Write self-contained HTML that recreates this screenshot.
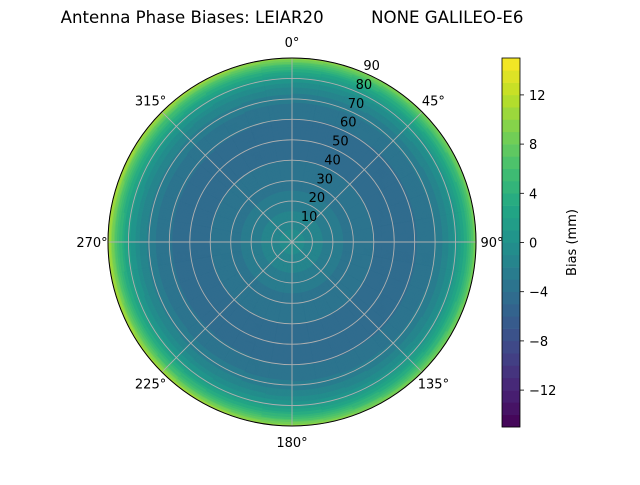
<!DOCTYPE html>
<html><head><meta charset="utf-8"><style>
body{margin:0;background:#fff;font-family:"Liberation Sans","DejaVu Sans",sans-serif}
svg text{font-family:"DejaVu Sans","Liberation Sans",sans-serif}
</style></head><body>
<svg id="chart" width="640" height="480" viewBox="0 0 640 480" xmlns="http://www.w3.org/2000/svg">
<text x="292" y="23" font-size="16.6" text-anchor="middle" xml:space="preserve">Antenna Phase Biases: LEIAR20         NONE GALILEO-E6</text>
<g id="plot"></g>
<g id="cbar"></g>
</svg>
<script>
const zenith=[0,5,10,15,20,25,30,35,40,45,50,55,60,65,70,75,80,83,86,88,90];
const bias=[-0.6,-0.9,-1.4,-2.0,-2.6,-3.0,-3.4,-3.7,-4.0,-4.2,-4.3,-4.2,-4.0,-3.5,-2.6,-1.2,1.0,3.0,5.5,7.8,10.5];
const azAsym=[0,0,0,0,0,0,0,0,0,0,0,0,0.1,0.2,0.3,0.4,0.6,0.8,1.0,1.2,1.5];
const cbTicks=[-12,-8,-4,0,4,8,12];
const rTicks=[10,20,30,40,50,60,70,80,90];
const aTicks=[0,45,90,135,180,225,270,315];
const vmin=-15,vmax=15,nLev=30;
const cx=292,cy=242,R=184;
const NS="http://www.w3.org/2000/svg";
const V=[[68,1,84],[72,36,117],[65,68,135],[53,95,141],[42,120,142],[33,145,140],[34,168,132],[68,191,112],[122,209,81],[189,223,38],[253,231,37]];
function vir(t){t=Math.max(0,Math.min(1,t));const f=t*(V.length-1),i=Math.min(V.length-2,Math.floor(f)),u=f-i;
return 'rgb('+V[i].map((c,k)=>Math.round(c+(V[i+1][k]-c)*u)).join(',')+')';}
function lvlColor(v){let k=Math.floor((v-vmin)/(vmax-vmin)*nLev);k=Math.max(0,Math.min(nLev-1,k));return vir((k+0.5)/nLev);}
function rScale(z){return z/90*R;}
function interp(arr,z){for(let i=0;i<zenith.length-1;i++){if(z<=zenith[i+1]){const u=(z-zenith[i])/(zenith[i+1]-zenith[i]);return arr[i]+(arr[i+1]-arr[i])*u;}}return arr[arr.length-1];}
function el(t,a,p){const e=document.createElementNS(NS,t);for(const k in a)e.setAttribute(k,a[k]);p.appendChild(e);return e;}
const plot=document.getElementById('plot');
const dz=0.5,da=10;
for(let z=90-dz;z>=0;z-=dz){
 for(let a=0;a<360;a+=da){
  const am=(a+da/2)*Math.PI/180;
  const v=interp(bias,z+dz/2)-interp(azAsym,z+dz/2)*Math.sin(am)*1.0;
  const r1=rScale(z+dz),a1=a*Math.PI/180,a2=(a+da)*Math.PI/180;
  const p=`M${cx} ${cy} L${cx+r1*Math.sin(a1)} ${cy-r1*Math.cos(a1)} A${r1} ${r1} 0 0 1 ${cx+r1*Math.sin(a2)} ${cy-r1*Math.cos(a2)} Z`;
  const w=el('path',{d:p,fill:lvlColor(v),stroke:lvlColor(v),'stroke-width':0.4},plot);
  
  
 }
}
rTicks.forEach(t=>{const c=el('circle',{cx:cx,cy:cy,r:rScale(t),fill:'none',stroke:'#b0b0b0','stroke-width':0.9},plot);
 });
aTicks.forEach(t=>{const a=t*Math.PI/180;const l=el('line',{x1:cx,y1:cy,x2:cx+R*Math.sin(a),y2:cy-R*Math.cos(a),stroke:'#b0b0b0','stroke-width':0.9},plot);
 
 const lr=R+16;const tx=el('text',{x:cx+lr*Math.sin(a),y:cy-lr*Math.cos(a)+5,'font-size':13,'text-anchor':'middle'},plot);tx.textContent=t+'°';
 });
const b=el('circle',{cx:cx,cy:cy,r:R,fill:'none',stroke:'#000','stroke-width':1},plot);

rTicks.forEach(t=>{const a=22.5*Math.PI/180,r=rScale(t);const tx=el('text',{x:cx+r*Math.sin(a)+1,y:cy-r*Math.cos(a)-2,'font-size':13,'text-anchor':'start'},plot);tx.textContent=t;
 });
const cb=document.getElementById('cbar');const bx=502,bw=18,by0=58,by1=427;
function yScale(v){return by1-(v-vmin)/(vmax-vmin)*(by1-by0);}
for(let k=0;k<nLev;k++){const v0=vmin+k*(vmax-vmin)/nLev,v1=v0+(vmax-vmin)/nLev;
 const r=el('rect',{x:bx,y:yScale(v1),width:bw,height:yScale(v0)-yScale(v1)+0.3,fill:vir((k+0.5)/nLev)},cb);
 }
const fr=el('rect',{x:bx,y:by0,width:bw,height:by1-by0,fill:'none',stroke:'#000','stroke-width':0.8},cb);

cbTicks.forEach(t=>{const y=yScale(t);el('line',{x1:bx+bw,y1:y,x2:bx+bw+4,y2:y,stroke:'#000','stroke-width':0.8},cb);
 const tx=el('text',{x:bx+bw+9,y:y+5,'font-size':13},cb);tx.textContent=(t<0?'\u2212'+(-t):t);
 });
const lab=el('text',{x:0,y:0,'font-size':13,'text-anchor':'middle',transform:`translate(576,${(by0+by1)/2}) rotate(-90)`},cb);lab.textContent='Bias (mm)';

</script>
</body></html>
